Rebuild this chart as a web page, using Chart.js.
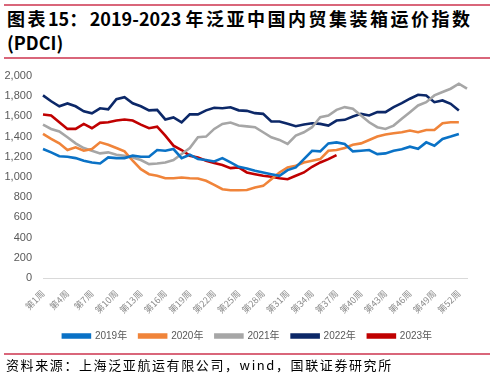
<!DOCTYPE html>
<html>
<head>
<meta charset="utf-8">
<script src="https://cdn.jsdelivr.net/npm/chart.js@4"></script>
<style>
  body { margin: 0; width: 495px; height: 378px; background: #fff; position: relative; overflow: hidden; font-family: "Noto Sans CJK SC", sans-serif; }
  .rule { position: absolute; left: 4px; width: 486px; height: 2px; background: #d9667a; }
  #title { position: absolute; left: 7px; top: 6px; font-size: 18px; font-weight: bold; line-height: 24px; color: #000; }
  #title .cjk { letter-spacing: 2.5px; }
  #source { position: absolute; left: 6px; top: 356px; font-size: 13px; line-height: 18px; color: #000; letter-spacing: 1.6px; }
  #wrap { position: absolute; left: 0; top: 62px; width: 495px; height: 293px; }
</style>
</head>
<body>
<div class="rule" style="top:4px"></div>
<div id="title"><span class="cjk">图表</span>15<span class="cjk">：</span>2019-2023 <span class="cjk">年泛亚中国内贸集装箱运价指数</span><br>(PDCI)</div>
<div class="rule" style="top:57px"></div>
<div id="wrap"><canvas id="c"></canvas></div>
<div class="rule" style="top:353px"></div>
<div id="source">资料来源：上海泛亚航运有限公司，wind，国联证券研究所</div>
<script>
// weeks 1..53
const weeks = [];
for (let i = 1; i <= 53; i++) weeks.push('第' + i + '周');

const y2019 = [1277, 1244, 1205, 1201, 1187, 1161, 1144, 1134, 1194, 1187, 1187, 1211, 1201, 1201, 1267, 1260, 1277, 1187, 1221, 1178,
  1168, 1154, 1187, 1144, 1101, 1085, 1061, 1045, 1028, 1012, 1068, 1095, 1177, 1260, 1254, 1333, 1343, 1327, 1254, 1260,
  1267, 1227, 1234, 1260, 1274, 1300, 1280, 1343, 1310, 1377, 1400, 1426];
const y2020 = [1426, 1377, 1333, 1267, 1294, 1260, 1277, 1343, 1320, 1287, 1254, 1161, 1078, 1028, 1012, 988, 988, 995, 988, 985,
  962, 922, 879, 869, 869, 872, 896, 912, 978, 1045, 1095, 1111, 1144, 1161, 1177, 1260, 1267, 1287, 1320, 1333,
  1367, 1400, 1420, 1433, 1443, 1460, 1443, 1466, 1466, 1532, 1542, 1542];
const y2021 = [1519, 1476, 1450, 1393, 1333, 1287, 1260, 1234, 1244, 1221, 1211, 1194, 1168, 1128, 1134, 1144, 1168, 1227, 1287, 1393,
  1400, 1476, 1526, 1539, 1509, 1501, 1493, 1443, 1393, 1367, 1327, 1410, 1443, 1493, 1592, 1609, 1665, 1692, 1675, 1609,
  1542, 1493, 1476, 1509, 1576, 1642, 1708, 1741, 1808, 1841, 1874, 1924, 1874];
const y2022 = [1808, 1750, 1700, 1728, 1700, 1650, 1630, 1680, 1670, 1770, 1790, 1730, 1700, 1660, 1665, 1570, 1590, 1540, 1620, 1620,
  1660, 1685, 1680, 1690, 1660, 1655, 1632, 1625, 1549, 1549, 1526, 1503, 1519, 1532, 1526, 1509, 1559, 1566, 1599, 1625,
  1609, 1642, 1642, 1692, 1731, 1775, 1814, 1808, 1741, 1758, 1725, 1658];
const y2023 = [1619, 1609, 1542, 1476, 1476, 1526, 1483, 1536, 1542, 1559, 1569, 1559, 1519, 1483, 1499, 1410, 1310, 1267, 1211, 1194,
  1161, 1138, 1118, 1088, 1095, 1045, 1028, 1012, 1002, 988, 978, 1012, 1045, 1101, 1144, 1177, 1217];

const seriesNames = ['2019年', '2020年', '2021年', '2022年', '2023年'];
const seriesData = [y2019, y2020, y2021, y2022, y2023];
const seriesColors = ['#0a72c6', '#f0843a', '#a6a6a6', '#0c2868', '#c00000'];

new Chart(document.getElementById('c'), {
  type: 'line',
  data: {
    labels: weeks,
    datasets: seriesNames.map((n, i) => ({
      label: n,
      data: seriesData[i],
      borderColor: seriesColors[i],
      backgroundColor: seriesColors[i],
      borderWidth: 2.6,
      pointRadius: 0,
      tension: 0,
      fill: false
    }))
  },
  options: {
    responsive: true,
    maintainAspectRatio: false,
    animation: false,
    layout: { padding: { top: 14, right: 0, bottom: 4, left: 0 } },
    plugins: {
      legend: {
        position: 'bottom',
        labels: {
          boxWidth: 27,
          boxHeight: 3,
          padding: 12,
          color: '#595959',
          font: { size: 10, family: 'Liberation Sans, "Noto Sans CJK SC"' }
        }
      },
      tooltip: { enabled: false }
    },
    scales: {
      x: {
        grid: { display: false },
        border: { display: true, color: '#d9d9d9', width: 1 },
        ticks: {
          autoSkip: false,
          minRotation: 45,
          maxRotation: 45,
          padding: 2,
          color: '#8c8c8c',
          font: { size: 9, family: '"Noto Sans CJK SC"' },
          callback: function (v, i) { return i % 3 === 0 ? this.getLabelForValue(v) : ''; }
        },
        afterFit: s => { s.height = 41; }
      },
      y: {
        min: 0,
        max: 2000,
        grid: { display: false },
        border: { display: false },
        ticks: {
          stepSize: 200,
          padding: 3,
          color: '#595959',
          font: { size: 11, family: 'Liberation Sans' },
          callback: v => v.toLocaleString('en-US')
        },
        afterFit: s => { s.width = 43; }
      },
      // empty right-hand spacer so the plot ends where the reference does
      yRight: {
        position: 'right',
        min: 0,
        max: 1,
        grid: { display: false },
        border: { display: false },
        ticks: { display: false },
        afterFit: s => { s.width = 28; }
      }
    }
  }
});
</script>
</body>
</html>
